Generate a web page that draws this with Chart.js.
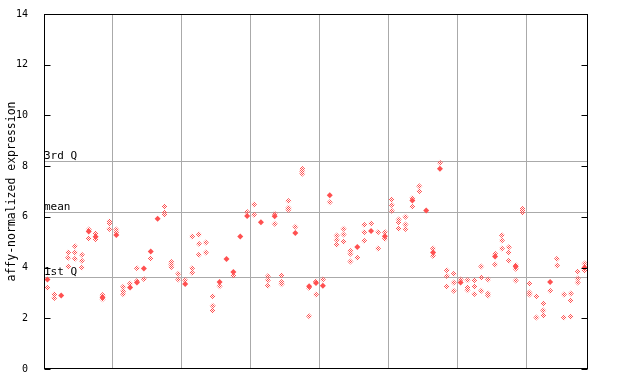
<!DOCTYPE html>
<html lang="en">

<head>
    <meta charset="UTF-8">
    <title>affy-normalized expression</title>
    <script src="https://cdn.jsdelivr.net/npm/chart.js"></script>
    <style>
        body {
            margin: 0;
            background: #fff;
        }

        #wrap {
            width: 640px;
            height: 384px;
        }
    </style>
</head>

<body>
    <div id="wrap"><canvas id="exprChart" width="640" height="384"></canvas></div>

    <script>
        // values per sample (column)
        const hollowValues = [
            [3.20], [2.95, 2.80], [], [4.59, 4.39, 4.04], [4.84, 4.59, 4.35],
            [4.51, 4.27, 4.00], [5.50, 5.15], [5.34, 5.12], [2.92, 2.75], [5.83, 5.75, 5.52],
            [5.50, 5.40], [3.24, 3.08, 2.95], [3.37], [3.97, 3.47], [3.55],
            [4.36], [], [6.41, 6.17, 6.08], [4.22, 4.12, 4.02], [3.76, 3.53],
            [3.50], [5.23, 3.97, 3.80], [5.30, 4.94, 4.51], [4.99, 4.59], [2.87, 2.49, 2.31],
            [3.26], [], [3.68], [], [6.19],
            [6.49, 6.08], [], [3.66, 3.50, 3.28], [6.12, 5.73], [3.70, 3.43, 3.34],
            [6.63, 6.36, 6.28], [5.61], [7.90, 7.80, 7.70], [3.19, 2.08], [3.45, 2.94],
            [3.53], [6.58], [5.26, 5.10, 4.90], [5.53, 5.30, 5.02], [4.65, 4.55, 4.24],
            [4.39], [5.69, 5.39, 5.06], [5.74], [5.39, 4.75], [5.40, 5.14],
            [6.68, 6.47, 6.24], [5.90, 5.79, 5.53], [6.00, 5.70, 5.52], [6.74, 6.40], [7.21, 7.01],
            [], [4.75, 4.46], [8.13], [3.89, 3.67, 3.25], [3.76, 3.41, 3.09],
            [3.53], [3.50, 3.21, 3.11], [3.50, 3.25, 2.96], [4.04, 3.61, 3.09], [3.53, 2.98, 2.90],
            [4.55, 4.12], [5.27, 5.07, 4.75], [4.80, 4.59, 4.27], [4.10, 3.95, 3.49], [6.32, 6.25, 6.17],
            [3.37, 3.02, 2.94], [2.87, 2.03], [2.58, 2.31, 2.11], [3.09], [4.35, 4.08],
            [2.94, 2.03], [2.98, 2.70, 2.07], [3.84, 3.57, 3.41], [4.16, 3.89]
        ];
        const solidValues = [
            [3.53], [], [2.90], [], [],
            [], [5.42], [5.22], [2.83], [],
            [5.28], [], [3.21], [3.41], [3.96],
            [4.63], [5.93], [], [], [],
            [3.35], [], [], [], [],
            [3.43], [4.34], [3.83], [5.23], [6.03],
            [], [5.79], [], [6.02], [],
            [], [5.36], [], [3.26], [3.39],
            [3.28], [6.85], [], [], [],
            [4.81], [], [5.44], [], [5.24],
            [], [], [], [6.65], [],
            [6.25], [4.59], [7.90], [], [],
            [3.41], [], [], [], [],
            [4.44], [], [], [4.04], [],
            [], [], [], [3.43], [],
            [], [], [], [4.00]
        ];
        const yTicks = [0, 2, 4, 6, 8, 10, 12, 14];
        const groupBreaks = [9.5, 19.5, 29.5, 39.5, 49.5, 59.5, 69.5];
        const refLines = [
            { label: '3rd Q', value: 8.22 },
            { label: 'mean', value: 6.20 },
            { label: '1st Q', value: 3.61 }
        ];

        const red = '#ff5050';
        const mono = '"DejaVu Sans Mono", monospace';

        function toPoints(cols) {
            const pts = [];
            cols.forEach((vals, i) => vals.forEach(v => pts.push({ x: i, y: v })));
            return pts;
        }

        // checkered fill for the open diamonds
        function checker() {
            const c = document.createElement('canvas');
            c.width = 2;
            c.height = 2;
            const g = c.getContext('2d');
            g.fillStyle = red;
            g.fillRect(0, 0, 1, 1);
            g.fillRect(1, 1, 1, 1);
            return g.createPattern(c, 'repeat');
        }

        // frame, inward ticks, quartile lines and the axis title
        const decorations = {
            id: 'decorations',
            beforeDatasetsDraw(chart) {
                const { ctx, chartArea: a, scales: { y } } = chart;
                ctx.save();
                ctx.strokeStyle = '#aaaaaa';
                ctx.lineWidth = 1;
                ctx.font = '11px ' + mono;
                ctx.fillStyle = '#000';
                ctx.textBaseline = 'bottom';
                refLines.forEach(r => {
                    const py = Math.round(y.getPixelForValue(r.value)) + 0.5;
                    ctx.beginPath();
                    ctx.moveTo(a.left, py);
                    ctx.lineTo(a.right, py);
                    ctx.stroke();
                    ctx.fillText(r.label, a.left, py + 0.5);
                });
                ctx.restore();
            },
            afterDraw(chart) {
                const { ctx, chartArea: a, scales: { y } } = chart;
                ctx.save();
                ctx.strokeStyle = '#000';
                ctx.lineWidth = 1;
                const l = Math.round(a.left) + 0.5, r = Math.round(a.right) - 0.5;
                const t = Math.round(a.top) + 0.5, b = Math.round(a.bottom) - 0.5;
                ctx.strokeRect(l, t, r - l, b - t);
                ctx.beginPath();
                yTicks.forEach(v => {
                    const py = Math.round(y.getPixelForValue(v)) + 0.5;
                    ctx.moveTo(l, py);
                    ctx.lineTo(l + 6, py);
                    ctx.moveTo(r, py);
                    ctx.lineTo(r - 6, py);
                });
                ctx.stroke();

                ctx.translate(12, (a.top + a.bottom) / 2);
                ctx.rotate(-Math.PI / 2);
                ctx.font = '11.5px ' + mono;
                ctx.fillStyle = '#000';
                ctx.textAlign = 'center';
                ctx.textBaseline = 'middle';
                ctx.fillText('affy-normalized expression', 0, 0);
                ctx.restore();
            }
        };

        const ctx = document.getElementById('exprChart').getContext('2d');
        new Chart(ctx, {
            type: 'scatter',
            data: {
                datasets: [{
                    data: toPoints(hollowValues),
                    pointStyle: 'rectRot',
                    radius: 3,
                    borderWidth: 0,
                    backgroundColor: checker()
                }, {
                    data: toPoints(solidValues),
                    pointStyle: 'rectRot',
                    radius: 3,
                    borderWidth: 0,
                    backgroundColor: red
                }]
            },
            options: {
                responsive: false,
                animation: false,
                events: [],
                layout: { padding: { top: 13, right: 52, bottom: 15, left: 0 } },
                plugins: {
                    legend: { display: false },
                    tooltip: { enabled: false }
                },
                scales: {
                    x: {
                        type: 'linear',
                        min: -0.5,
                        max: 78.5,
                        afterBuildTicks: s => { s.ticks = groupBreaks.map(v => ({ value: v })); },
                        afterFit: s => { s.height = 0; },
                        ticks: { display: false },
                        border: { display: false },
                        grid: { color: '#aaaaaa', drawTicks: false }
                    },
                    y: {
                        min: 0,
                        max: 14,
                        afterBuildTicks: s => { s.ticks = yTicks.map(v => ({ value: v })); },
                        afterFit: s => { s.width = 44; },
                        border: { display: false },
                        grid: { display: false },
                        ticks: {
                            padding: 8,
                            color: '#000',
                            font: { family: mono, size: 10 }
                        }
                    }
                }
            },
            plugins: [decorations]
        });
    </script>
</body>

</html>
